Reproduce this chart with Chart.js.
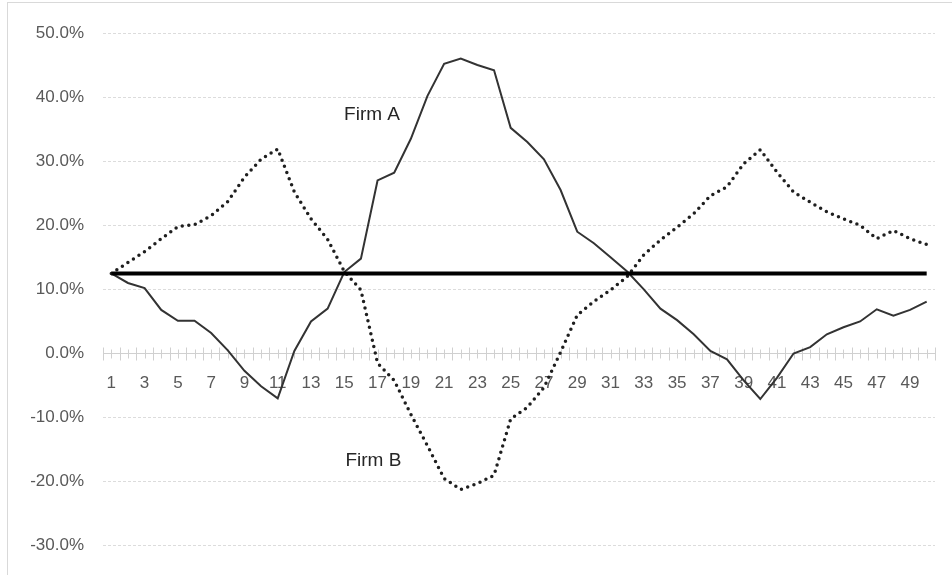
<!DOCTYPE html>
<html><head><meta charset="utf-8">
<script src="https://cdn.jsdelivr.net/npm/chart.js@4.4.0/dist/chart.umd.min.js"></script>
<style>
html,body{margin:0;padding:0;background:#fff;}
#wrap{position:relative;width:952px;height:575px;overflow:hidden;background:#fff;}
#frame{position:absolute;left:7px;top:2px;width:1000px;height:700px;border-top:1px solid #d9d9d9;border-left:1px solid #d9d9d9;}
canvas{position:absolute;left:0;top:0;}
</style></head><body>
<div id="wrap"><div id="frame"></div><canvas id="c" width="952" height="575"></canvas></div>
<script>
const categories = ['1','2','3','4','5','6','7','8','9','10','11','12','13','14','15','16','17','18','19','20',
  '21','22','23','24','25','26','27','28','29','30','31','32','33','34','35','36','37','38','39','40',
  '41','42','43','44','45','46','47','48','49','50'];
const firmA = [12.5, 11, 10.2, 6.8, 5.1, 5.1, 3.2, 0.5, -2.7, -5.1, -7, 0.4, 5, 7, 12.7, 14.8, 27, 28.2, 33.5, 40.2,
  45.2, 46, 45, 44.2, 35.2, 33, 30.3, 25.5, 19, 17.2, 15, 12.8, 10, 7, 5.2, 3, 0.4, -0.9, -4.2, -7.1,
  -3.8, 0, 1, 3, 4.1, 5, 6.9, 5.9, 6.8, 8.1];
const firmB = [12.5, 14.2, 15.9, 17.9, 19.8, 20.1, 21.5, 23.7, 27.5, 30.3, 31.9, 25.2, 21, 17.8, 12.8, 9.9, -1.5, -4.2, -9.5, -14.4,
  -19.5, -21.2, -20.3, -19, -10.2, -8.4, -5.3, 0.2, 6, 8.1, 9.9, 12, 15.4, 17.7, 19.7, 21.8, 24.6, 26, 29.6, 31.8,
  28.3, 25.2, 23.6, 22.1, 21, 20, 17.9, 19.2, 17.9, 17];
const average = [12.5, 12.5, 12.5, 12.5, 12.5, 12.5, 12.5, 12.5, 12.5, 12.5, 12.5, 12.5, 12.5, 12.5, 12.5, 12.5, 12.5, 12.5, 12.5, 12.5,
  12.5, 12.5, 12.5, 12.5, 12.5, 12.5, 12.5, 12.5, 12.5, 12.5, 12.5, 12.5, 12.5, 12.5, 12.5, 12.5, 12.5, 12.5, 12.5, 12.5,
  12.5, 12.5, 12.5, 12.5, 12.5, 12.5, 12.5, 12.5, 12.5, 12.5];
const yTicks = [-30, -20, -10, 0, 10, 20, 30, 40, 50];
const seriesLabels = [
  {text: 'Firm A', index: 15.67, value: 37.2},
  {text: 'Firm B', index: 15.75, value: -16.8}
];

const decor = {
  id: 'decor',
  beforeDatasetsDraw(chart) {
    const x = chart.scales.x, y = chart.scales.y, ctx = chart.ctx;
    const y0 = y.getPixelForValue(0);
    ctx.save();
    ctx.strokeStyle = '#d0d0d0';
    ctx.lineWidth = 1;
    const n = categories.length;
    for (let i = 0; i <= n; i++) {
      const xb = Math.round(x.getPixelForValue(i - 0.5)) + 0.5;
      ctx.beginPath(); ctx.moveTo(xb, y0 - 6); ctx.lineTo(xb, y0 + 7); ctx.stroke();
      if (i < n) {
        const xc = Math.round(x.getPixelForValue(i)) + 0.5;
        ctx.beginPath(); ctx.moveTo(xc, y0 - 4); ctx.lineTo(xc, y0 + 5); ctx.stroke();
      }
    }
    ctx.restore();
  },
  afterDatasetsDraw(chart) {
    const x = chart.scales.x, y = chart.scales.y, ctx = chart.ctx;
    ctx.save();
    ctx.font = '19px "Liberation Sans", Arial, sans-serif';
    ctx.fillStyle = '#262626';
    ctx.textAlign = 'center';
    ctx.textBaseline = 'middle';
    seriesLabels.forEach(l => ctx.fillText(l.text, x.getPixelForValue(l.index), y.getPixelForValue(l.value)));
    ctx.restore();
  }
};

new Chart(document.getElementById('c'), {
  type: 'line',
  data: {
    labels: categories,
    datasets: [
      {label: 'Average', data: average, borderColor: '#000000', borderWidth: 4, pointRadius: 0, tension: 0, order: 0},
      {label: 'Firm A', data: firmA, borderColor: '#333333', borderWidth: 2, pointRadius: 0, tension: 0, order: 1},
      {label: 'Firm B', data: firmB, borderColor: '#1f1f1f', borderWidth: 3.5, borderDash: [0, 6.6], borderCapStyle: 'round', pointRadius: 0, tension: 0, order: 2}
    ]
  },
  options: {
    responsive: false,
    animation: false,
    layout: {padding: {left: 0, right: 17, top: 33, bottom: 26}},
    plugins: {legend: {display: false}, tooltip: {enabled: false}},
    scales: {
      x: {
        type: 'category',
        position: {y: 0},
        offset: true,
        grid: {display: false},
        border: {display: true, color: '#d0d0d0', width: 1},
        ticks: {
          autoSkip: false, maxRotation: 0, minRotation: 0, padding: 12,
          color: '#595959',
          font: {family: '"Liberation Sans", Arial, sans-serif', size: 17},
          callback: function(v, i) { return i % 2 === 0 ? categories[i] : ''; }
        }
      },
      y: {
        min: yTicks[0], max: yTicks[yTicks.length - 1],
        afterBuildTicks: s => { s.ticks = yTicks.map(v => ({value: v})); },
        afterFit: s => { s.width = 103; },
        grid: {color: '#dcdcdc', lineWidth: 1, drawTicks: false},
        border: {display: false, dash: [3, 2]},
        ticks: {
          padding: 19, color: '#595959',
          font: {family: '"Liberation Sans", Arial, sans-serif', size: 17},
          callback: v => v.toFixed(1) + '%'
        }
      }
    }
  },
  plugins: [decor]
});
</script>
</body></html>
